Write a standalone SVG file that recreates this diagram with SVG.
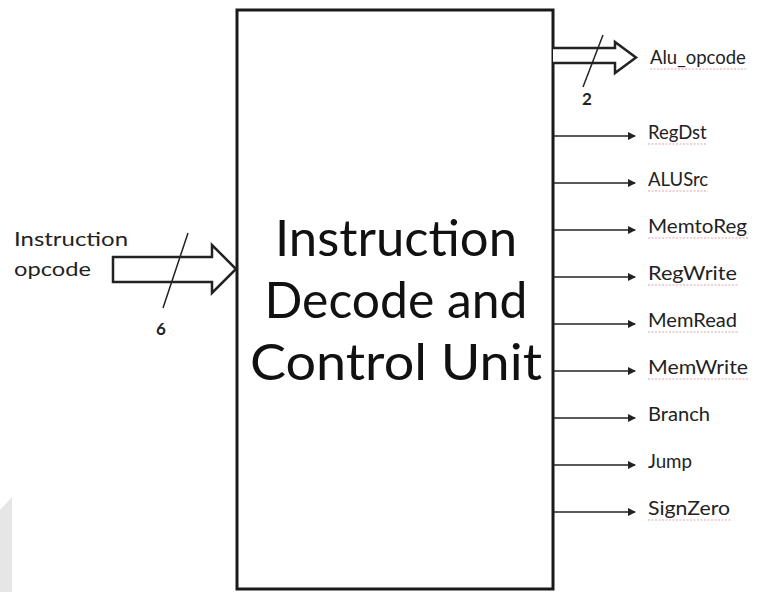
<svg xmlns="http://www.w3.org/2000/svg" width="764" height="592" viewBox="0 0 764 592">
<style>
.lbl{font-family:Lato,"Open Sans",sans-serif;font-size:18.5px;fill:#222}
.inl{font-family:Lato,"Open Sans",sans-serif;font-size:19px;fill:#222}
.num{font-family:Lato,"Open Sans",sans-serif;font-size:17px;font-weight:bold;fill:#222}
.big{font-family:Lato,"Open Sans",sans-serif;font-size:50px;fill:#111;text-anchor:middle}
.sig{stroke:#222;stroke-width:1.5;fill:none}
.bus{stroke:#222;stroke-width:2.5;fill:#fff;stroke-linejoin:miter}
.sq{stroke:#e7a3a8;stroke-width:1.2;fill:none;stroke-dasharray:2 1.5}
</style>
<defs>
<marker id="ah" markerWidth="8" markerHeight="8" refX="7" refY="4" orient="auto" markerUnits="userSpaceOnUse">
<path d="M0,0 L8,4 L0,8 Z" fill="#222"/>
</marker>
</defs>
<rect width="764" height="592" fill="#fff"/>
<path d="M0,592 L0,510 L12,497 L12,592 Z" fill="#e6e6e6"/>
<g id="unit">
<rect x="237" y="10" width="316" height="579" fill="#fff" stroke="#1a1a1a" stroke-width="3"/>
<text class="big" x="396" y="256" textLength="242" lengthAdjust="spacingAndGlyphs">Instruction</text>
<text class="big" x="396" y="318" textLength="263" lengthAdjust="spacingAndGlyphs">Decode and</text>
<text class="big" x="396" y="380" textLength="292" lengthAdjust="spacingAndGlyphs">Control Unit</text>
</g>
<g id="connectors">
<path class="bus" d="M113,257 L212,257 L212,245 L236,269 L212,293 L212,282 L113,282 Z"/>
<line class="sig" x1="188" y1="233" x2="163" y2="308"/>
<path class="bus" d="M553,48 L615,48 L615,42 L636,57.5 L615,73 L615,63 L553,63"/>
<line class="sig" x1="603" y1="35" x2="583" y2="87"/>
<line class="sig" x1="553" y1="136" x2="635" y2="136" marker-end="url(#ah)"/>
<line class="sig" x1="553" y1="183" x2="635" y2="183" marker-end="url(#ah)"/>
<line class="sig" x1="553" y1="230" x2="635" y2="230" marker-end="url(#ah)"/>
<line class="sig" x1="553" y1="277" x2="635" y2="277" marker-end="url(#ah)"/>
<line class="sig" x1="553" y1="324" x2="635" y2="324" marker-end="url(#ah)"/>
<line class="sig" x1="553" y1="371" x2="635" y2="371" marker-end="url(#ah)"/>
<line class="sig" x1="553" y1="418" x2="635" y2="418" marker-end="url(#ah)"/>
<line class="sig" x1="553" y1="465" x2="635" y2="465" marker-end="url(#ah)"/>
<line class="sig" x1="553" y1="512" x2="635" y2="512" marker-end="url(#ah)"/>
</g>
<g id="in-label">
<text class="inl" x="14" y="246" textLength="114" lengthAdjust="spacingAndGlyphs">Instruction</text>
<text class="inl" x="14" y="276" textLength="77" lengthAdjust="spacingAndGlyphs">opcode</text>
<text class="num" x="156" y="335">6</text>
</g>
<g id="out-labels">
<text class="lbl" x="650" y="64">Alu_opcode</text>
<text class="num" x="582" y="105">2</text>
<text class="lbl" x="648" y="139">RegDst</text>
<text class="lbl" x="648" y="186">ALUSrc</text>
<text class="lbl" x="648" y="233" textLength="99" lengthAdjust="spacingAndGlyphs">MemtoReg</text>
<text class="lbl" x="648" y="280" textLength="89" lengthAdjust="spacingAndGlyphs">RegWrite</text>
<text class="lbl" x="648" y="327" textLength="89" lengthAdjust="spacingAndGlyphs">MemRead</text>
<text class="lbl" x="648" y="374" textLength="100" lengthAdjust="spacingAndGlyphs">MemWrite</text>
<text class="lbl" x="648" y="421" textLength="62" lengthAdjust="spacingAndGlyphs">Branch</text>
<text class="lbl" x="648" y="468" textLength="44" lengthAdjust="spacingAndGlyphs">Jump</text>
<text class="lbl" x="648" y="515" textLength="82" lengthAdjust="spacingAndGlyphs">SignZero</text>
</g>
<g id="squiggles">
<line class="sq" x1="650" y1="69" x2="746" y2="69"/>
<line class="sq" x1="648" y1="144" x2="706" y2="144"/>
<line class="sq" x1="648" y1="191" x2="708" y2="191"/>
<line class="sq" x1="648" y1="238" x2="748" y2="238"/>
<line class="sq" x1="648" y1="285" x2="738" y2="285"/>
<line class="sq" x1="648" y1="332" x2="738" y2="332"/>
<line class="sq" x1="648" y1="379" x2="749" y2="379"/>
<line class="sq" x1="648" y1="520" x2="731" y2="520"/>
</g>
</svg>
